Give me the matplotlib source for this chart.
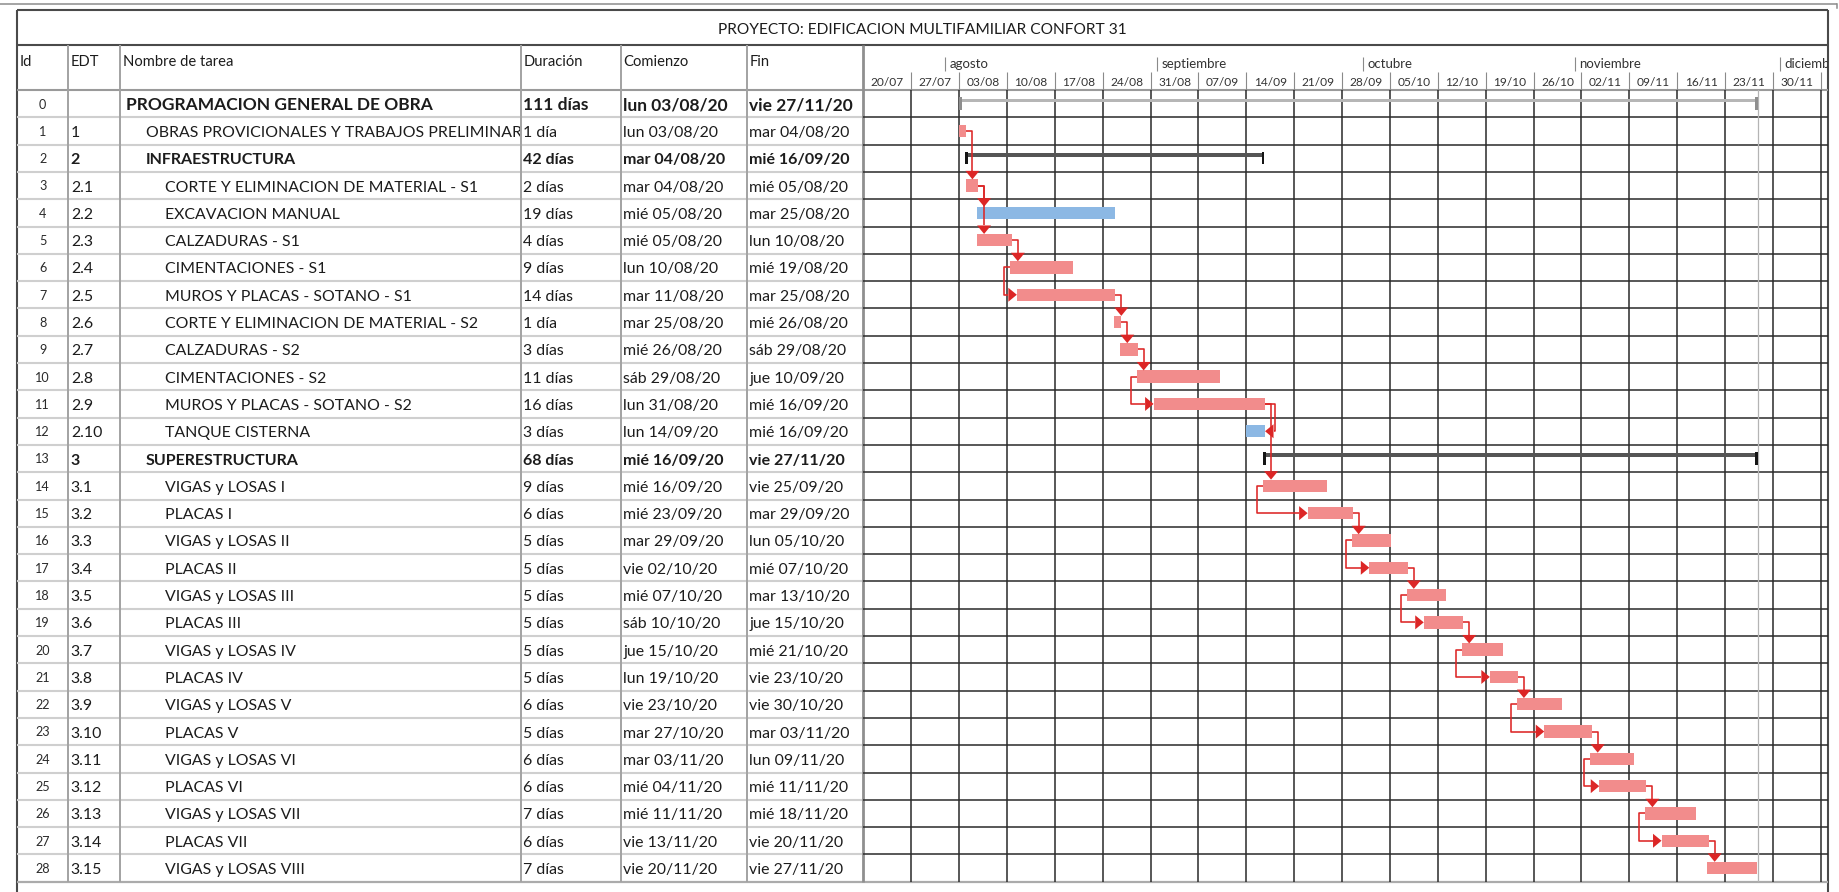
import datetime as dt
import matplotlib
matplotlib.use("Agg")
import matplotlib.pyplot as plt
import matplotlib.dates as mdates
from matplotlib.patches import Rectangle, Polygon
from matplotlib.transforms import Bbox

plt.rcParams['font.family'] = ['Lato', 'DejaVu Sans']

# ---------------- data ----------------
title = "PROYECTO: EDIFICACION MULTIFAMILIAR CONFORT 31"
col_headers = ["Id", "EDT", "Nombre de tarea", "Duración", "Comienzo", "Fin"]
ids = [str(i) for i in range(29)]
edt = ["", "1", "2", "2.1", "2.2", "2.3", "2.4", "2.5", "2.6", "2.7", "2.8", "2.9",
       "2.10", "3", "3.1", "3.2", "3.3", "3.4", "3.5", "3.6", "3.7", "3.8", "3.9",
       "3.10", "3.11", "3.12", "3.13", "3.14", "3.15"]
names = ["PROGRAMACION GENERAL DE OBRA",
         "OBRAS PROVICIONALES Y TRABAJOS PRELIMINARES",
         "INFRAESTRUCTURA",
         "CORTE Y ELIMINACION DE MATERIAL - S1",
         "EXCAVACION MANUAL",
         "CALZADURAS - S1",
         "CIMENTACIONES - S1",
         "MUROS Y PLACAS - SOTANO - S1",
         "CORTE Y ELIMINACION DE MATERIAL - S2",
         "CALZADURAS - S2",
         "CIMENTACIONES - S2",
         "MUROS Y PLACAS - SOTANO - S2",
         "TANQUE CISTERNA",
         "SUPERESTRUCTURA",
         "VIGAS y LOSAS I", "PLACAS I", "VIGAS y LOSAS II", "PLACAS II",
         "VIGAS y LOSAS III", "PLACAS III", "VIGAS y LOSAS IV", "PLACAS IV",
         "VIGAS y LOSAS V", "PLACAS V", "VIGAS y LOSAS VI", "PLACAS VI",
         "VIGAS y LOSAS VII", "PLACAS VII", "VIGAS y LOSAS VIII"]
levels = [0, 1, 1, 2, 2, 2, 2, 2, 2, 2, 2, 2, 2, 1,
          2, 2, 2, 2, 2, 2, 2, 2, 2, 2, 2, 2, 2, 2, 2]
durations = ["111 días", "1 día", "42 días", "2 días", "19 días", "4 días", "9 días",
             "14 días", "1 día", "3 días", "11 días", "16 días", "3 días", "68 días",
             "9 días", "6 días", "5 días", "5 días", "5 días", "5 días", "5 días",
             "5 días", "6 días", "5 días", "6 días", "6 días", "7 días", "6 días", "7 días"]
start_txt = ["lun 03/08/20", "lun 03/08/20", "mar 04/08/20", "mar 04/08/20", "mié 05/08/20",
             "mié 05/08/20", "lun 10/08/20", "mar 11/08/20", "mar 25/08/20", "mié 26/08/20",
             "sáb 29/08/20", "lun 31/08/20", "lun 14/09/20", "mié 16/09/20", "mié 16/09/20",
             "mié 23/09/20", "mar 29/09/20", "vie 02/10/20", "mié 07/10/20", "sáb 10/10/20",
             "jue 15/10/20", "lun 19/10/20", "vie 23/10/20", "mar 27/10/20", "mar 03/11/20",
             "mié 04/11/20", "mié 11/11/20", "vie 13/11/20", "vie 20/11/20"]
end_txt = ["vie 27/11/20", "mar 04/08/20", "mié 16/09/20", "mié 05/08/20", "mar 25/08/20",
           "lun 10/08/20", "mié 19/08/20", "mar 25/08/20", "mié 26/08/20", "sáb 29/08/20",
           "jue 10/09/20", "mié 16/09/20", "mié 16/09/20", "vie 27/11/20", "vie 25/09/20",
           "mar 29/09/20", "lun 05/10/20", "mié 07/10/20", "mar 13/10/20", "jue 15/10/20",
           "mié 21/10/20", "vie 23/10/20", "vie 30/10/20", "mar 03/11/20", "lun 09/11/20",
           "mié 11/11/20", "mié 18/11/20", "vie 20/11/20", "vie 27/11/20"]
# bar kind: project summary, summary, critical task, non-critical task
kinds = ["project", "crit", "summary", "crit", "noncrit", "crit", "crit", "crit", "crit",
         "crit", "crit", "crit", "noncrit", "summary", "crit", "crit", "crit", "crit",
         "crit", "crit", "crit", "crit", "crit", "crit", "crit", "crit", "crit", "crit", "crit"]
bar_start = ["2020-08-03 00:00", "2020-08-03 01:00", "2020-08-03 20:00", "2020-08-03 23:30",
             "2020-08-05 14:00", "2020-08-05 14:00", "2020-08-10 11:00", "2020-08-11 10:30",
             "2020-08-25 16:00", "2020-08-26 12:00", "2020-08-29 00:00", "2020-08-31 10:30",
             "2020-09-13 23:00", "2020-09-16 11:00", "2020-09-16 12:00", "2020-09-22 23:00",
             "2020-09-29 10:30", "2020-10-01 23:30", "2020-10-07 12:00", "2020-10-09 22:30",
             "2020-10-15 13:00", "2020-10-19 14:30", "2020-10-23 14:30", "2020-10-27 13:30",
             "2020-11-03 07:00", "2020-11-04 14:30", "2020-11-11 08:30", "2020-11-13 17:00",
             "2020-11-20 09:30"]
bar_end = ["2020-11-27 18:00", "2020-08-04 01:30", "2020-09-16 15:00", "2020-08-05 18:30",
           "2020-08-25 20:00", "2020-08-10 17:00", "2020-08-19 16:30", "2020-08-25 20:00",
           "2020-08-26 17:00", "2020-08-29 02:30", "2020-09-10 02:30", "2020-09-16 17:30",
           "2020-09-16 17:30", "2020-11-27 18:00", "2020-09-25 17:30", "2020-09-29 13:00",
           "2020-10-05 02:30", "2020-10-07 14:30", "2020-10-13 04:00", "2020-10-15 17:00",
           "2020-10-21 13:00", "2020-10-23 17:00", "2020-10-30 02:30", "2020-11-03 12:00",
           "2020-11-09 17:00", "2020-11-11 12:00", "2020-11-18 17:00", "2020-11-20 14:30",
           "2020-11-27 17:00"]
links = [(1, 3, "FS"), (3, 4, "FS"), (3, 5, "FS"), (5, 6, "FS"), (6, 7, "SS"),
         (7, 8, "FS"), (8, 9, "FS"), (9, 10, "FS"), (10, 11, "SS"), (11, 12, "FF"),
         (11, 14, "FS"), (14, 15, "SS"), (15, 16, "FS"), (16, 17, "SS"), (17, 18, "FS"),
         (18, 19, "SS"), (19, 20, "FS"), (20, 21, "SS"), (21, 22, "FS"), (22, 23, "SS"),
         (23, 24, "FS"), (24, 25, "SS"), (25, 26, "FS"), (26, 27, "SS"), (27, 28, "FS")]
month_names = ["agosto", "septiembre", "octubre", "noviembre", "diciembre"]
month_starts = ["2020-08-01", "2020-09-01", "2020-10-01", "2020-11-01", "2020-12-01"]
week_labels = ["20/07", "27/07", "03/08", "10/08", "17/08", "24/08", "31/08", "07/09",
               "14/09", "21/09", "28/09", "05/10", "12/10", "19/10", "26/10", "02/11",
               "09/11", "16/11", "23/11", "30/11", "07/12"]

# ---------------- layout (pixels) ----------------
W, H = 1840, 892
FL, FR, FT = 17.0, 1828.3, 9.5
TITLE_B, HDR_B = 45.0, 90.0
ROW_H = 27.3
NR = len(names)
TAB_B = HDR_B + NR * ROW_H
col_x = [FL, 68.3, 120.5, 520.7, 620.7, 746.7, 863.4]
PX_DAY = 47.87 / 7.0
TXT = '#1c1c1c'

fig = plt.figure(figsize=(W / 100, H / 100), dpi=100)
fig.patch.set_facecolor('white')
bg = fig.add_axes([0, 0, 1, 1])
bg.set_xlim(0, W)
bg.set_ylim(H, 0)
bg.axis('off')

renderer = fig.canvas.get_renderer()


def fit(txt, target, weight='normal'):
    t = fig.text(0, 0, txt, fontsize=10, fontweight=weight)
    w = t.get_window_extent(renderer).width
    t.remove()
    return 10.0 * target / w


fs_hdr = fit("Nombre de tarea", 110)
fs_row = 0.5 * (fit("lun 03/08/20", 96.7) + fit("CORTE Y ELIMINACION DE MATERIAL - S1", 303))
fs_sum = 0.5 * (fit("mar 04/08/20", 105, 'bold') + fit("INFRAESTRUCTURA", 146, 'bold'))
fs_prj = 0.5 * (fit("lun 03/08/20", 106.7, 'bold') + fit("PROGRAMACION GENERAL DE OBRA", 301.6, 'bold'))
fs_title = fit(title, 405)
fs_week = fit("20/07", 33)
fs_month = fit("agosto", 39)
fs_id = fit("28", 14.7)

# page line + frame
bg.plot([0, 1837], [4, 4], color='#8c8c8c', lw=1.1, solid_capstyle='butt')
bg.plot([1837, 1837], [4, 8], color='#8c8c8c', lw=1.1)
frame_kw = dict(color='#4a4a4a', lw=1.5, solid_capstyle='butt')
bg.plot([FL, FL], [FT, H], **frame_kw)
bg.plot([FR, FR], [FT, H], **frame_kw)
bg.plot([FL, FR], [FT, FT], **frame_kw)
bg.plot([FL, FR], [TITLE_B, TITLE_B], **frame_kw)

# title
bg.text((FL + FR) / 2, 28 + fs_title / 2, title, ha='center', va='baseline',
        fontsize=fs_title, color=TXT)

# table grid
for i in range(1, NR):
    y = HDR_B + i * ROW_H
    bg.plot([FL, col_x[-1]], [y, y], color='#cfcfcf', lw=1.5, solid_capstyle='butt')
bg.plot([FL, FR], [HDR_B, HDR_B], color='#9a9a9a', lw=1.5, solid_capstyle='butt')
bg.plot([FL, FR], [TAB_B, TAB_B], color='#ababab', lw=1.6, solid_capstyle='butt')
for x in col_x[1:-1]:
    bg.plot([x, x], [TITLE_B, TAB_B], color='#a2a2a2', lw=1.4, solid_capstyle='butt')
bg.plot([col_x[-1], col_x[-1]], [TITLE_B, TAB_B], color='#8f8f8f', lw=2.0, solid_capstyle='butt')

# headers
hdr_base = 66.0
for x, h in zip(col_x[:-1], col_headers):
    bg.text(x + 2.8, hdr_base, h, fontsize=fs_hdr, color=TXT, va='baseline')

# rows
indent = [126.5, 145.7, 165.0]
for r in range(NR):
    yc = HDR_B + (r + 0.5) * ROW_H
    if kinds[r] == 'project':
        fs, fw = fs_prj, 'bold'
    elif kinds[r] == 'summary':
        fs, fw = fs_sum, 'bold'
    else:
        fs, fw = fs_row, 'normal'
    base = yc + fs * 0.5 + 0.3
    bg.text((col_x[0] + col_x[1]) / 2, yc + fs_id * 0.5 + 0.3, ids[r], ha='center',
            va='baseline', fontsize=fs_id, color='#2a2a2a')
    bg.text(col_x[1] + 2.5, base, edt[r], fontsize=fs_row if fw == 'normal' or kinds[r] == 'project' else fs_sum,
            fontweight='normal' if kinds[r] == 'project' else fw, va='baseline', color=TXT)
    t = bg.text(indent[levels[r]], base, names[r], fontsize=fs, fontweight=fw,
                va='baseline', color=TXT, clip_on=True)
    t.set_clip_box(Bbox.from_extents(col_x[2], 0, col_x[3] - 0.5, H))
    bg.text(col_x[3] + 2.8, base, durations[r], fontsize=fs, fontweight=fw, va='baseline', color=TXT)
    bg.text(col_x[4] + 2.8, base, start_txt[r], fontsize=fs, fontweight=fw, va='baseline', color=TXT)
    bg.text(col_x[5] + 2.8, base, end_txt[r], fontsize=fs, fontweight=fw, va='baseline', color=TXT)

# ---------------- gantt axes ----------------
t0 = mdates.date2num(dt.datetime(2020, 7, 20))
gx0, gx1 = col_x[-1], FR
xlim = (t0, t0 + (gx1 - gx0) / PX_DAY)

gan = fig.add_axes([gx0 / W, 1 - TAB_B / H, (gx1 - gx0) / W, (TAB_B - HDR_B) / H])
gan.set_xlim(*xlim)
gan.set_ylim(NR, 0)
gan.axis('off')

hdr = fig.add_axes([gx0 / W, 1 - HDR_B / H, (gx1 - gx0) / W, (HDR_B - TITLE_B) / H])
hdr.set_xlim(*xlim)
hdr.set_ylim(HDR_B, TITLE_B)
hdr.axis('off')


def dx(px):
    return px / PX_DAY


def dy(px):
    return px / ROW_H


week_dates = [mdates.date2num(dt.datetime(2020, int(w[3:]), int(w[:2]))) for w in week_labels]
mon_dates = [mdates.date2num(dt.datetime.fromisoformat(m)) for m in month_starts]

# grid
for wd in week_dates[1:]:
    gan.axvline(wd, color='#2a2a2a', lw=1.1, zorder=1)
for r in range(1, NR):
    gan.axhline(r, color='#2a2a2a', lw=1.1, zorder=1)

# header
hdr.vlines(week_dates[1:], 71.7, HDR_B, color='#8a8a8a', lw=0.8)
hdr.vlines(mon_dates, 56.7, 70.7, color='#8a8a8a', lw=0.8)
for wd, wl in zip(week_dates, week_labels):
    hdr.text(wd + 3.5, 82 + fs_week * 0.5, wl, ha='center', va='baseline',
             fontsize=fs_week, color='#333333', clip_on=True)
for md, mn in zip(mon_dates, month_names):
    hdr.text(md + dx(4.5), 64 + fs_month * 0.45, mn, ha='left', va='baseline',
             fontsize=fs_month, color='#333333', clip_on=True)

# bars
S = [mdates.date2num(dt.datetime.fromisoformat(s)) for s in bar_start]
E = [mdates.date2num(dt.datetime.fromisoformat(e)) for e in bar_end]
BH = dy(12.4)
PINK, BLUE, LINK = '#f28c8c', '#8cb8e4', '#dc2626'

gan.axvline(E[0], color='#b4b4b4', lw=0.9, zorder=1.5)

for r in range(NR):
    yc = r + 0.5
    k = kinds[r]
    if k in ('crit', 'noncrit'):
        gan.barh(yc, E[r] - S[r], left=S[r], height=BH,
                 color=PINK if k == 'crit' else BLUE, edgecolor='none', zorder=3)
    else:
        barc, capc = ('#b6b6b6', '#8e8e8e') if k == 'project' else ('#555555', '#151515')
        gan.barh(yc - dy(3.2), E[r] - S[r], left=S[r], height=dy(3.8),
                 color=barc, edgecolor='none', zorder=3)
        for cx in (S[r], E[r] - dx(2.7)):
            gan.add_patch(Rectangle((cx, yc - dy(6.3)), dx(2.7), dy(12.3),
                                    facecolor=capc, edgecolor='none', zorder=4))

# links
AW, AH = 14.0, 8.5
lk = dict(color=LINK, lw=1.15, zorder=5, solid_joinstyle='round', solid_capstyle='butt')
for p, s, typ in links:
    yp, ys = p + 0.5, s + 0.5
    if typ == 'FS':
        xv = E[p] + dx(6)
        ytop = ys - BH / 2
        gan.plot([E[p], xv, xv], [yp, yp, ytop - dy(AH)], **lk)
        gan.add_patch(Polygon([(xv - dx(AW / 2), ytop - dy(AH)), (xv + dx(AW / 2), ytop - dy(AH)),
                               (xv, ytop)], closed=True, fc=LINK, ec='none', zorder=6))
    elif typ == 'SS':
        xv = S[p] - dx(6)
        xt = S[s]
        gan.plot([S[p], xv, xv, xt - dx(AH)], [yp, yp, ys, ys], **lk)
        gan.add_patch(Polygon([(xt - dx(AH), ys - dy(AW / 2)), (xt - dx(AH), ys + dy(AW / 2)),
                               (xt, ys)], closed=True, fc=LINK, ec='none', zorder=6))
    else:  # FF
        xv = E[p] + dx(10)
        xt = E[s]
        gan.plot([E[p], xv, xv, xt + dx(AH)], [yp, yp, ys, ys], **lk)
        gan.add_patch(Polygon([(xt + dx(AH), ys - dy(AW / 2)), (xt + dx(AH), ys + dy(AW / 2)),
                               (xt, ys)], closed=True, fc=LINK, ec='none', zorder=6))

fig.savefig("out.png", dpi=100, facecolor='white')
